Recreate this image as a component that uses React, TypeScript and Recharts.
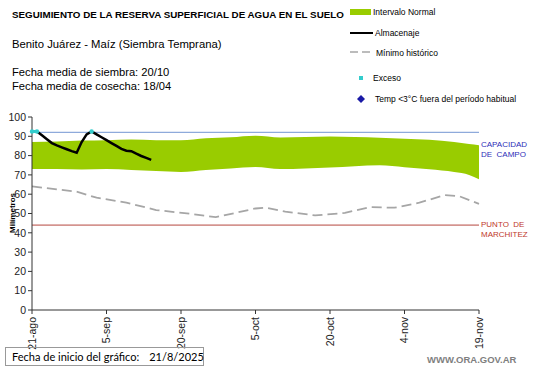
import {
  Area,
  ComposedChart,
  Line,
  ReferenceLine,
  XAxis,
  YAxis,
} from "recharts";

// days counted from 21-ago
const tickDays = [0, 15, 30, 45, 60, 75, 90];
const tickLabels = ["21-ago", "5-sep", "20-sep", "5-oct", "20-oct", "4-nov", "19-nov"];
const yTicks = [0, 10, 20, 30, 40, 50, 60, 70, 80, 90, 100];

const bandDays = [0, 5, 10, 15, 20, 25, 30, 35, 40, 45, 50, 55, 60, 65, 70, 75, 80, 85, 88, 90];
const bandLow = [73, 73, 72.8, 73, 72.5, 72, 71.5, 72.5, 73.3, 74.1, 73, 73.3, 73.8, 74.5, 75, 74, 72.9, 71.5, 70, 67.7];
const bandHigh = [87, 87.3, 87.8, 88, 88.3, 88, 88, 89, 89.5, 90.3, 89.4, 89.6, 89.9, 89.6, 89.2, 88.7, 88.2, 87, 86, 85.4];

const minimoDays = [0, 9, 13, 19, 25, 32, 37, 45, 47, 51, 57, 63, 68, 73, 78, 83, 86, 90];
const minimoValues = [64, 61.3, 58.2, 55.6, 51.8, 49.8, 48.1, 52.6, 53, 51, 49, 50.3, 53.3, 53, 55.6, 59.5, 59, 55];

// almacenaje diario desde el dia 0
const almacenaje = [
  92.5, 92.5, 90.5, 88.5, 86.5, 85.3, 84.3, 83.3, 82.3, 81.5, 87, 91, 92.5,
  91, 89.5, 88, 86.5, 85, 83.5, 82.5, 82.3, 81, 79.8, 78.8, 77.8,
];

const excesoDays = [0, 1, 12];
const excesoValues = [92.5, 92.5, 92.5];

const capacidadCampo = 92;
const puntoMarchitez = 44;

type Row = {
  day: number;
  band?: [number, number];
  minimo?: number;
  almacenaje?: number;
  exceso?: number;
};

function buildRows(): Row[] {
  const map = new Map<number, Row>();
  const get = (d: number) => {
    if (!map.has(d)) map.set(d, { day: d });
    return map.get(d)!;
  };
  bandDays.forEach((d, i) => (get(d).band = [bandLow[i], bandHigh[i]]));
  minimoDays.forEach((d, i) => (get(d).minimo = minimoValues[i]));
  almacenaje.forEach((v, d) => (get(d).almacenaje = v));
  excesoDays.forEach((d, i) => (get(d).exceso = excesoValues[i]));
  return [...map.values()].sort((a, b) => a.day - b.day);
}

const rows = buildRows();

function DateTick({ x, y, payload }: any) {
  const idx = tickDays.indexOf(payload.value);
  return (
    <g transform={`translate(${x},${y}) rotate(-90)`}>
      <text x={0} y={0} dy="0.35em" textAnchor="end" fontSize={10.5} fill="#222">
        {tickLabels[idx]}
      </text>
    </g>
  );
}

const font = "'Liberation Sans', Arial, sans-serif";

export default function App() {
  return (
    <div
      style={{
        position: "fixed",
        left: 0,
        top: 0,
        width: 541,
        height: 368,
        background: "#fff",
        fontFamily: font,
        color: "#000",
        overflow: "hidden",
      }}
    >
      <ComposedChart
        width={541}
        height={368}
        data={rows}
        margin={{ top: 117, right: 62, bottom: 0, left: 0 }}
        style={{ position: "absolute", left: 0, top: 0 }}
      >
        <XAxis
          dataKey="day"
          type="number"
          domain={[0, 90]}
          ticks={tickDays}
          tick={<DateTick />}
          interval={0}
          height={58}
          tickSize={4}
          tickMargin={3}
          stroke="#333"
        />
        <YAxis
          type="number"
          domain={[0, 100]}
          ticks={yTicks}
          interval={0}
          width={32}
          tickSize={4}
          tickMargin={2}
          stroke="#333"
          tick={{ fontSize: 10.5, fill: "#222" }}
        />
        <Area
          dataKey="band"
          type="monotone"
          connectNulls
          fill="#99cc00"
          fillOpacity={1}
          stroke="none"
          isAnimationActive={false}
        />
        <ReferenceLine y={capacidadCampo} stroke="#8eaadb" strokeWidth={1.2} />
        <ReferenceLine y={puntoMarchitez} stroke="#b5473f" strokeWidth={1} />
        <Line
          dataKey="minimo"
          type="linear"
          connectNulls
          stroke="#a6a6a6"
          strokeWidth={1.8}
          strokeDasharray="10 5"
          dot={false}
          isAnimationActive={false}
        />
        <Line
          dataKey="almacenaje"
          type="linear"
          connectNulls
          stroke="#000"
          strokeWidth={2.5}
          dot={false}
          isAnimationActive={false}
        />
        <Line
          dataKey="exceso"
          type="linear"
          stroke="#33cccc"
          strokeWidth={3}
          dot={{ r: 2.2, fill: "#33cccc", stroke: "none" }}
          isAnimationActive={false}
        />
      </ComposedChart>

      <div style={{ position: "absolute", left: 12, top: 9, fontSize: 9.8, fontWeight: "bold" }}>
        SEGUIMIENTO DE LA RESERVA SUPERFICIAL DE AGUA EN EL SUELO
      </div>
      <div style={{ position: "absolute", left: 12, top: 38, fontSize: 11.3 }}>
        Benito Juárez - Maíz (Siembra Temprana)
      </div>
      <div style={{ position: "absolute", left: 12, top: 65, fontSize: 11.2, lineHeight: "14px" }}>
        Fecha media de siembra: 20/10
        <br />
        Fecha media de cosecha: 18/04
      </div>

      {/* leyenda */}
      <div style={{ position: "absolute", left: 350, top: 9, width: 21, height: 6, background: "#99cc00" }} />
      <div style={{ position: "absolute", left: 373, top: 7, fontSize: 8.5 }}>Intervalo Normal</div>
      <div style={{ position: "absolute", left: 350, top: 32, width: 23, height: 2, background: "#000" }} />
      <div style={{ position: "absolute", left: 375, top: 28, fontSize: 8.5 }}>Almacenaje</div>
      <svg style={{ position: "absolute", left: 350, top: 50 }} width={24} height={4}>
        <line x1={0} y1={2} x2={22} y2={2} stroke="#a6a6a6" strokeWidth={1.5} strokeDasharray="8 4" />
      </svg>
      <div style={{ position: "absolute", left: 376, top: 48, fontSize: 8.5 }}>Mínimo histórico</div>
      <div style={{ position: "absolute", left: 359, top: 76, width: 4, height: 4, background: "#33cccc" }} />
      <div style={{ position: "absolute", left: 373, top: 73, fontSize: 8.5 }}>Exceso</div>
      <svg style={{ position: "absolute", left: 357, top: 95 }} width={8} height={8}>
        <polygon points="4,0 8,4 4,8 0,4" fill="#1a1aa6" />
      </svg>
      <div style={{ position: "absolute", left: 375, top: 94, fontSize: 8.5 }}>
        Temp &lt;3°C fuera del período habitual
      </div>

      <div
        style={{
          position: "absolute",
          left: 12,
          top: 213,
          fontSize: 8,
          fontWeight: "bold",
          transform: "translate(-50%, -50%) rotate(-90deg)",
        }}
      >
        Milímetros
      </div>

      <div style={{ position: "absolute", left: 481, top: 140, fontSize: 8, lineHeight: "10px", color: "#2e2eb8" }}>
        CAPACIDAD
        <br />
        DE&nbsp;&nbsp;CAMPO
      </div>
      <div style={{ position: "absolute", left: 481, top: 220, fontSize: 8, lineHeight: "10px", color: "#c0392b" }}>
        PUNTO&nbsp;&nbsp;DE
        <br />
        MARCHITEZ
      </div>

      <div
        style={{
          position: "absolute",
          left: 5,
          top: 347,
          width: 199,
          height: 19,
          border: "1px solid #999",
          fontFamily: "Lato, sans-serif",
          fontSize: 11,
          lineHeight: "17px",
          boxSizing: "border-box",
          paddingLeft: 6,
          whiteSpace: "nowrap",
        }}
      >
        Fecha de inicio del gráfico:<span style={{ marginLeft: 10 }}>21/8/2025</span>
      </div>
      <div
        style={{
          position: "absolute",
          left: 427,
          top: 354,
          fontSize: 9.5,
          fontWeight: "bold",
          color: "#7f7f7f",
        }}
      >
        WWW.ORA.GOV.AR
      </div>
    </div>
  );
}
